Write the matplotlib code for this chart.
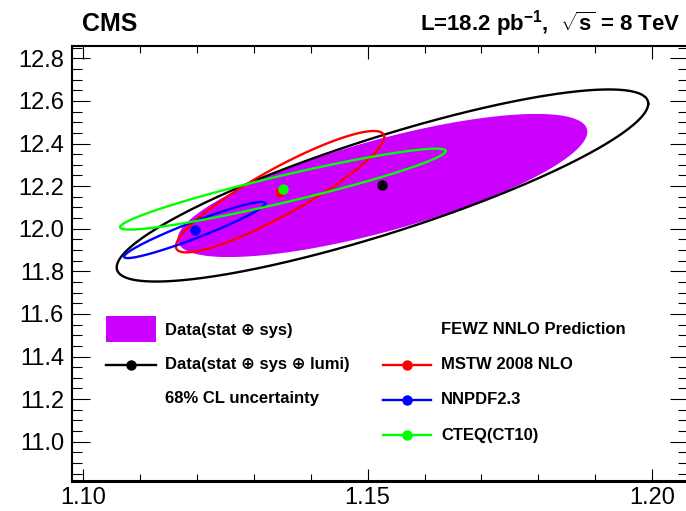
import numpy as np
import matplotlib
matplotlib.use("Agg")
import matplotlib.pyplot as plt
from matplotlib.patches import Rectangle
from matplotlib.lines import Line2D
from matplotlib.ticker import MultipleLocator

plt.rcParams['font.family'] = ['Liberation Sans', 'DejaVu Sans']
plt.rcParams['mathtext.fontset'] = 'custom'
plt.rcParams['mathtext.rm'] = 'Liberation Sans'
plt.rcParams['mathtext.bf'] = 'Liberation Sans:bold'

# 68% CL ellipses: centre, widths and correlation for each measurement / prediction
labels = ["Data(stat \u2295 sys)", "Data(stat \u2295 sys \u2295 lumi)",
          "MSTW 2008 NLO", "NNPDF2.3", "CTEQ(CT10)"]
center_x = [1.1526, 1.1526, 1.1346, 1.1196, 1.1351]
center_y = [12.203, 12.203, 12.174, 11.994, 12.186]
sigma_x = [0.0360, 0.0467, 0.0183, 0.0124, 0.0286]
sigma_y = [0.336, 0.451, 0.285, 0.132, 0.190]
rho = [0.75, 0.852, 0.90, 0.95, 0.94]
colors = ["#CC00FF", "black", "#FF0000", "#0000FF", "#00FF00"]

x_ticks = [1.10, 1.15, 1.20]
y_ticks = [11.0, 11.2, 11.4, 11.6, 11.8, 12.0, 12.2, 12.4, 12.6, 12.8]


def ellipse(i, n=500):
    t = np.linspace(0, 2 * np.pi, n)
    x = center_x[i] + sigma_x[i] * np.cos(t)
    y = center_y[i] + sigma_y[i] * (rho[i] * np.cos(t) + np.sqrt(1 - rho[i] ** 2) * np.sin(t))
    return x, y


fig = plt.figure(figsize=(6.86, 5.11), dpi=100)
W, H = 686.0, 511.0
x0, x1, y0, y1 = 72.3, 687.5, 46.0, 481.0
ax = fig.add_axes([x0 / W, 1 - y1 / H, (x1 - x0) / W, (y1 - y0) / H])

ax.set_xlim(1.0981, 1.2062)
ax.set_ylim(10.8155, 12.858)

# filled stat+sys ellipse
xf, yf = ellipse(0)
ax.fill(xf, yf, color=colors[0], lw=0, zorder=1)

# outline ellipses
for i in [1, 2, 3, 4]:
    xe, ye = ellipse(i)
    ax.plot(xe, ye, color=colors[i], lw=1.7, zorder=2)

# central values
for i in [2, 4, 3, 1]:
    ax.plot(center_x[i], center_y[i], 'o', color=colors[i], ms=7.5, mec='none', zorder=3)

# axes styling
ax.xaxis.set_minor_locator(MultipleLocator(0.01))
ax.yaxis.set_minor_locator(MultipleLocator(0.05))
ax.set_xticks(x_ticks)
ax.set_xticklabels([f"{v:.2f}" for v in x_ticks])
ax.set_yticks(y_ticks)
ax.set_yticklabels([f"{v:.1f}" for v in y_ticks])
ax.tick_params(which='both', direction='in', top=True, right=True, width=0.8, color='black')
ax.tick_params(axis='x', which='major', length=9, labelsize=17, pad=4)
ax.tick_params(axis='x', which='minor', length=5)
ax.tick_params(axis='y', which='major', length=13, labelsize=17, pad=6)
ax.tick_params(axis='y', which='minor', length=7)
ax.spines['bottom'].set_linewidth(2.2)
ax.spines['left'].set_linewidth(1.5)
ax.spines['top'].set_linewidth(1.5)
ax.spines['right'].set_linewidth(1.5)

# legend drawn by hand
def px(xp):
    return (xp - x0) / (x1 - x0)

def py(yp):
    return (y1 - yp) / (y1 - y0)

fs = 12
ax.add_patch(Rectangle((px(106), py(342)), px(156) - px(106), py(316) - py(342),
                       transform=ax.transAxes, color=colors[0], lw=0, zorder=4))
ax.text(px(165), py(330), labels[0], transform=ax.transAxes, fontsize=fs,
        fontweight='bold', va='center', ha='left')
ax.add_line(Line2D([px(106), px(156)], [py(364.5)] * 2, transform=ax.transAxes,
                   color=colors[1], lw=1.7))
ax.plot(px(131), py(364.5), 'o', color=colors[1], ms=7.5, mec='none', transform=ax.transAxes)
ax.text(px(165), py(364.5), labels[1], transform=ax.transAxes, fontsize=fs,
        fontweight='bold', va='center', ha='left')
ax.text(px(165), py(398), "68% CL uncertainty", transform=ax.transAxes, fontsize=fs,
        fontweight='bold', va='center', ha='left')

ax.text(px(441), py(330), "FEWZ NNLO Prediction", transform=ax.transAxes, fontsize=fs,
        fontweight='bold', va='center', ha='left')
for i, yp in zip([2, 3, 4], [364.5, 399.5, 435]):
    ax.add_line(Line2D([px(383), px(431)], [py(yp)] * 2, transform=ax.transAxes,
                       color=colors[i], lw=1.7))
    ax.plot(px(407), py(yp), 'o', color=colors[i], ms=7.5, mec='none', transform=ax.transAxes)
    ax.text(px(441), py(yp), labels[i], transform=ax.transAxes, fontsize=fs,
            fontweight='bold', va='center', ha='left')

# header
fig.text(82 / W, 1 - 31 / H, "CMS", fontsize=18, fontweight='bold', ha='left', va='baseline')
fig.text(680 / W, 1 - 31 / H, r"L=18.2 pb$^{\mathbf{-1}}$,  $\sqrt{\mathbf{s}}$ = 8 TeV",
         fontsize=16, fontweight='bold', ha='right', va='baseline')

fig.savefig("out.png", dpi=100)
